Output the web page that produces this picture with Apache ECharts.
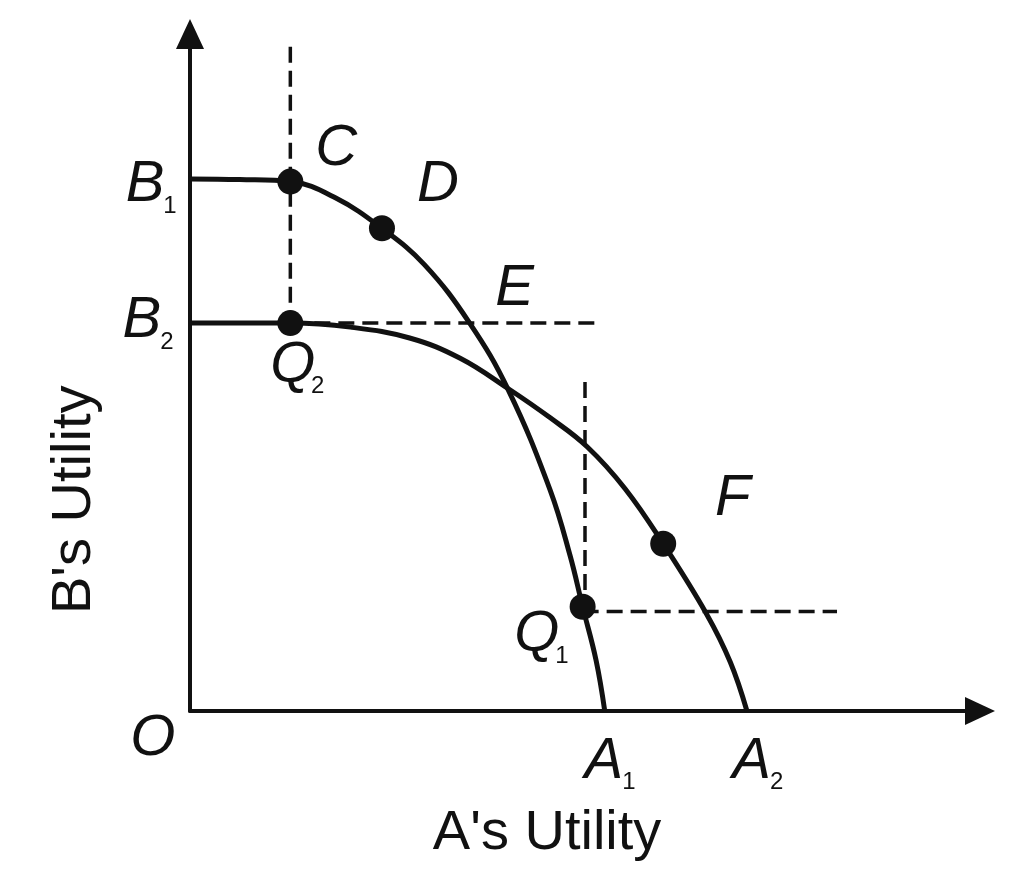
<!DOCTYPE html>
<html>
<head>
<meta charset="utf-8">
<title>Utility possibility frontiers</title>
<script src="https://cdn.jsdelivr.net/npm/echarts@6/dist/echarts.min.js"></script>
<style>
html, body { margin: 0; padding: 0; background: #fff; }
#main { width: 1022px; height: 880px; }
</style>
</head>
<body>
<div id="main"></div>
<script>
// curve B1 -> A1 and curve B2 -> A2 (axes 0..100)
var curve1 = [[0, 78.6], [6.3, 78.5], [12.7, 78.2], [18.4, 75.8], [24.3, 71.3], [29.7, 65.9], [35.4, 57.3],
              [40.3, 47.4], [45.6, 32.6], [48.1, 23.0], [49.7, 15.4], [51.4, 7.5], [52.5, 0]];
var curve2 = [[0, 57.3], [6.3, 57.3], [12.7, 57.3], [20.3, 56.7], [27.8, 55.1], [34.2, 52.1], [40.3, 47.6],
              [45.6, 43.3], [50.3, 39.0], [55.1, 32.8], [59.9, 24.7], [65.4, 14.3], [68.4, 7.2], [70.5, 0]];
// points C, D, Q2, F, Q1
var dots = [[12.7, 78.2], [24.3, 71.3], [12.7, 57.3], [59.9, 24.7], [49.7, 15.4]];
// dashed guide lines
var dashSegs = [
    [[12.7, 98.1], [12.7, 57.3]],
    [[12.7, 57.3], [51.6, 57.3]],
    [[50.0, 48.6], [50.0, 15.4]],
    [[49.7, 14.7], [81.9, 14.7]]
];
// letter labels
var labelText = ['B', 'B', 'C', 'D', 'E', 'Q', 'F', 'Q', 'O', 'A', 'A'];
var labelSub  = ['1', '2', '', '', '', '2', '', '1', '', '1', '2'];
var labelAt   = [[-5.7, 77.7], [-6.1, 57.6], [18.5, 83.0], [31.4, 77.7], [41.1, 62.3], [13.0, 51.0],
                 [68.7, 31.3], [43.9, 11.2], [-4.7, -4.1], [52.4, -7.5], [71.1, -7.5]];
var xName = "A's Utility", xNameAt = [45.2, -18.1];
var yName = "B's Utility", yNameAt = [-14.6, 31.2];

var ink = '#111';
var font = '"Liberation Sans", Arial, sans-serif';
var chart = echarts.init(document.getElementById('main'));

function axisCfg() {
    return {
        type: 'value', min: 0, max: 100,
        axisLine: { show: true, symbol: ['none', 'triangle'], symbolSize: [28, 30],
                    lineStyle: { color: ink, width: 4 } },
        axisTick: { show: false }, axisLabel: { show: false }, splitLine: { show: false }
    };
}

var series = [];
[curve1, curve2].forEach(function (c) {
    series.push({ type: 'line', data: c, smooth: 0.4, showSymbol: false, clip: false,
                  lineStyle: { color: ink, width: 5 }, z: 3 });
});
dashSegs.forEach(function (s) {
    series.push({ type: 'line', data: s, showSymbol: false, clip: false,
                  lineStyle: { color: ink, width: 3.5, type: [16, 8] }, z: 2 });
});
series.push({ type: 'scatter', data: dots, symbolSize: 26, itemStyle: { color: ink, opacity: 1 }, z: 5 });

chart.setOption({
    animation: false,
    grid: { left: 190, right: 42, top: 34, bottom: 169, outerBoundsMode: 'none' },
    xAxis: axisCfg(),
    yAxis: axisCfg(),
    series: series
});

// text placed from data coords
var g = [];
labelText.forEach(function (t, i) {
    var p = chart.convertToPixel({ gridIndex: 0 }, labelAt[i]);
    g.push({ type: 'text', x: p[0], y: p[1], z: 10,
             style: { text: t, font: 'italic 58px ' + font, fill: ink, align: 'center', verticalAlign: 'middle' } });
    if (labelSub[i]) {
        g.push({ type: 'text', x: p[0] + 25, y: p[1] + 21, z: 10,
                 style: { text: labelSub[i], font: '24px ' + font, fill: ink, align: 'center', verticalAlign: 'middle' } });
    }
});
var px = chart.convertToPixel({ gridIndex: 0 }, xNameAt);
g.push({ type: 'text', x: px[0], y: px[1], style: { text: xName, font: '56px ' + font, fill: ink, align: 'center', verticalAlign: 'middle' } });
var py = chart.convertToPixel({ gridIndex: 0 }, yNameAt);
g.push({ type: 'text', x: py[0], y: py[1], rotation: Math.PI / 2,
         style: { text: yName, font: '56px ' + font, fill: ink, align: 'center', verticalAlign: 'middle' } });
chart.setOption({ graphic: g });
</script>
</body>
</html>
